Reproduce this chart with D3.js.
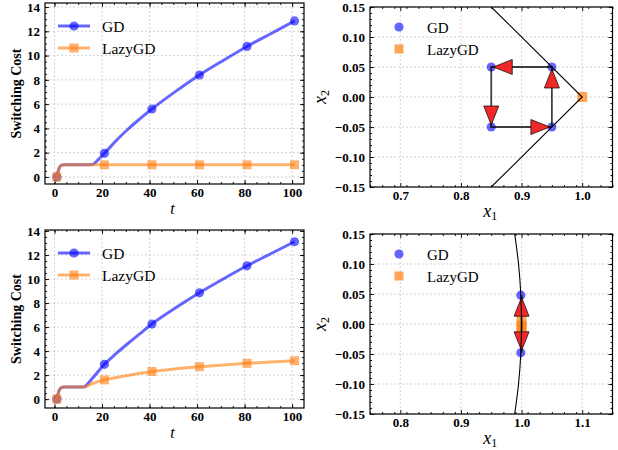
<!DOCTYPE html>
<html>
<head>
<meta charset="utf-8">
<script src="https://cdn.jsdelivr.net/npm/d3@7"></script>
<style>
  body { margin: 0; background: #fff; }
  svg text { font-family: "Liberation Serif", "Times New Roman", serif; }
</style>
</head>
<body>
<svg id="chart" width="618" height="450"></svg>
<script>
// ---- switching cost panels (left) ----
const tTop = [1, 2, 3, 4, 8, 12, 16, 18, 21, 26, 31, 36, 41, 51, 61, 71, 81, 91, 101];
const gdCostTop = [0, 0.75, 0.97, 1, 1, 1, 1.02, 1.35, 1.95, 3.0, 3.95, 4.8, 5.6, 7.05, 8.4, 9.6, 10.75, 11.8, 12.85];
const lazyCostTop = [0, 0.75, 0.97, 1, 1, 1, 1, 1, 1, 1, 1, 1, 1, 1, 1, 1, 1, 1, 1];

const tBottom = [1, 2, 3, 4, 8, 12, 16, 21, 26, 31, 36, 41, 51, 61, 71, 81, 91, 101];
const gdCostBottom = [0, 0.75, 0.97, 1, 1, 1, 1.75, 2.9, 3.8, 4.65, 5.45, 6.25, 7.6, 8.85, 10.0, 11.1, 12.1, 13.1];
const lazyCostBottom = [0, 0.75, 0.97, 1, 1, 1, 1.3, 1.6, 1.8, 1.97, 2.15, 2.3, 2.52, 2.7, 2.85, 2.98, 3.1, 3.2];

const markerT = [1, 21, 41, 61, 81, 101];
const costTicksX = [0, 20, 40, 60, 80, 100];
const costTicksY = [0, 2, 4, 6, 8, 10, 12, 14];

// ---- trajectory panels (right) ----
const gdTopX1 = [0.85, 0.95, 0.85, 0.95];
const gdTopX2 = [0.05, 0.05, -0.05, -0.05];
const lazyTopX1 = [1.0];
const lazyTopX2 = [0.0];
const pathTopX1 = [0.95, 0.95, 0.85, 0.85, 0.95];
const pathTopX2 = [-0.05, 0.05, 0.05, -0.05, -0.05];
const boundTopX1 = [0.85, 1.0, 0.85];
const boundTopX2 = [0.15, 0.0, -0.15];

const gdBotX1 = [0.9988, 0.9988];
const gdBotX2 = [0.048, -0.048];
const lazyBotX1 = [1.0, 1.0, 1.0];
const lazyBotX2 = [0.005, -0.003, -0.011];
const pathBotX1 = [1.0, 1.0, 1.0];
const pathBotX2 = [-0.048, 0.048, -0.048];
const boundBotX1 = [0.9887, 0.995, 0.9987, 1.0, 0.9987, 0.995, 0.9887];
const boundBotX2 = [0.15, 0.10, 0.05, 0.0, -0.05, -0.10, -0.15];

const trajTicksY = [-0.15, -0.10, -0.05, 0.0, 0.05, 0.10, 0.15];
const trajTicksXTop = [0.7, 0.8, 0.9, 1.0];
const trajTicksXBot = [0.8, 0.9, 1.0, 1.1];

const BLUE = "#0000ff", ORANGE = "#ff7f0e";
const svg = d3.select("#chart");

function panelFrame(box, x, y, xt, yt, xMinor, yMinor, fmtX, fmtY) {
  var g = svg.append("g");
  var w = box.x1 - box.x0, h = box.y1 - box.y0;

  // grid
  var grid = g.append("g").attr("stroke", "#c8c8c8").attr("stroke-width", 0.8)
    .attr("stroke-dasharray", "2,2");
  xt.forEach(function (v) {
    grid.append("line").attr("x1", x(v)).attr("x2", x(v)).attr("y1", box.y0).attr("y2", box.y1);
  });
  yt.forEach(function (v) {
    grid.append("line").attr("y1", y(v)).attr("y2", y(v)).attr("x1", box.x0).attr("x2", box.x1);
  });

  var axes = g.append("g").attr("class", "axes");
  function add(axis, tx, ty) {
    var a = axes.append("g").attr("transform", "translate(" + tx + "," + ty + ")").call(axis);
    a.select(".domain").remove();
    a.selectAll("line").attr("stroke", "#000").attr("stroke-width", 0.9);
    return a;
  }
  add(d3.axisBottom(x).tickValues(xt).tickSizeInner(-4).tickSizeOuter(0)
    .tickPadding(4).tickFormat(fmtX), 0, box.y1);
  add(d3.axisLeft(y).tickValues(yt).tickSizeInner(-4).tickSizeOuter(0)
    .tickPadding(5).tickFormat(fmtY), box.x0, 0);
  add(d3.axisTop(x).tickValues(xt).tickSizeInner(-4).tickSizeOuter(0).tickFormat(""), 0, box.y0);
  add(d3.axisRight(y).tickValues(yt).tickSizeInner(-4).tickSizeOuter(0).tickFormat(""), box.x1, 0);
  add(d3.axisBottom(x).tickValues(xMinor).tickSizeInner(-2).tickSizeOuter(0).tickFormat(""), 0, box.y1);
  add(d3.axisTop(x).tickValues(xMinor).tickSizeInner(-2).tickSizeOuter(0).tickFormat(""), 0, box.y0);
  add(d3.axisLeft(y).tickValues(yMinor).tickSizeInner(-2).tickSizeOuter(0).tickFormat(""), box.x0, 0);
  add(d3.axisRight(y).tickValues(yMinor).tickSizeInner(-2).tickSizeOuter(0).tickFormat(""), box.x1, 0);

  axes.selectAll("text").attr("font-family", "Liberation Serif, serif")
    .attr("font-size", 13).attr("font-weight", "bold").attr("fill", "#000");

  g.append("rect").attr("x", box.x0).attr("y", box.y0).attr("width", w).attr("height", h)
    .attr("fill", "none").attr("stroke", "#000").attr("stroke-width", 1.2);
  return g;
}

function minorBetween(lo, hi, step) {
  var out = [];
  for (var v = lo; v <= hi + 1e-9; v += step) out.push(+v.toFixed(4));
  return out;
}

// ---------- cost panel ----------
function costPanel(box, ts, gd, lazy, yDomain, id) {
  var x = d3.scaleLinear().domain([-4, 105]).range([box.x0, box.x1]);
  var y = d3.scaleLinear().domain(yDomain).range([box.y1, box.y0]);
  panelFrame(box, x, y, costTicksX, costTicksY, minorBetween(0, 100, 5),
    minorBetween(0, 14, 0.5), d3.format("d"), d3.format("d"));

  svg.append("clipPath").attr("id", id).append("rect")
    .attr("x", box.x0).attr("y", box.y0).attr("width", box.x1 - box.x0).attr("height", box.y1 - box.y0);
  var plot = svg.append("g").attr("clip-path", "url(#" + id + ")");

  var line = d3.line().x(function (d) { return x(d[0]); }).y(function (d) { return y(d[1]); })
    .curve(d3.curveMonotoneX);

  [[gd, BLUE, "circle"], [lazy, ORANGE, "square"]].forEach(function (s) {
    var pts = ts.map(function (t, i) { return [t, s[0][i]]; });
    plot.append("path").datum(pts).attr("d", line).attr("fill", "none")
      .attr("stroke", s[1]).attr("stroke-width", 3).attr("stroke-opacity", 0.6);
    var mk = pts.filter(function (p) { return markerT.indexOf(p[0]) >= 0; });
    if (s[2] === "circle") {
      plot.selectAll(null).data(mk).enter().append("circle")
        .attr("cx", function (d) { return x(d[0]); }).attr("cy", function (d) { return y(d[1]); })
        .attr("r", 4.6).attr("fill", s[1]).attr("fill-opacity", 0.6);
    } else {
      plot.selectAll(null).data(mk).enter().append("rect")
        .attr("x", function (d) { return x(d[0]) - 4.5; }).attr("y", function (d) { return y(d[1]) - 4.5; })
        .attr("width", 9).attr("height", 9).attr("fill", s[1]).attr("fill-opacity", 0.6);
    }
  });

  // legend
  var lg = svg.append("g");
  [["GD", BLUE, "circle", 0], ["LazyGD", ORANGE, "square", 22]].forEach(function (s) {
    var yy = box.y0 + 23 + s[3];
    lg.append("line").attr("x1", box.x0 + 13).attr("x2", box.x0 + 45).attr("y1", yy).attr("y2", yy)
      .attr("stroke", s[1]).attr("stroke-width", 3).attr("stroke-opacity", 0.6);
    if (s[2] === "circle") {
      lg.append("circle").attr("cx", box.x0 + 29).attr("cy", yy).attr("r", 4.6)
        .attr("fill", s[1]).attr("fill-opacity", 0.6);
    } else {
      lg.append("rect").attr("x", box.x0 + 24.5).attr("y", yy - 4.5).attr("width", 9).attr("height", 9)
        .attr("fill", s[1]).attr("fill-opacity", 0.6);
    }
    lg.append("text").attr("x", box.x0 + 57).attr("y", yy + 5.5).attr("font-size", 15.5)
      .text(s[0]);
  });

  // axis labels
  svg.append("text").attr("transform", "translate(21," + ((box.y0 + box.y1) / 2) + ") rotate(-90)")
    .attr("text-anchor", "middle").attr("font-size", 14).attr("font-weight", "bold")
    .text("Switching Cost");
  svg.append("text").attr("x", (box.x0 + box.x1) / 2 - 2).attr("y", box.y1 + 30)
    .attr("text-anchor", "middle").attr("font-size", 16).attr("font-style", "italic").text("t");
}

// ---------- trajectory panel ----------
function arrowHead(g, p0, p1) {
  var dx = p1[0] - p0[0], dy = p1[1] - p0[1];
  var L = Math.sqrt(dx * dx + dy * dy);
  var ux = dx / L, uy = dy / L, nx = -uy, ny = ux;
  var tip = [p1[0] - ux * 2, p1[1] - uy * 2];
  var base = [tip[0] - ux * 19, tip[1] - uy * 19];
  var pts = [tip, [base[0] + nx * 7.5, base[1] + ny * 7.5], [base[0] - nx * 7.5, base[1] - ny * 7.5]];
  g.append("path").attr("d", "M" + pts.join("L") + "Z")
    .attr("fill", "#f02828").attr("stroke", "#000").attr("stroke-opacity", 0.7).attr("stroke-width", 1);
}

function trajPanel(box, xDomain, xt, d, id) {
  var x = d3.scaleLinear().domain(xDomain).range([box.x0, box.x1]);
  var y = d3.scaleLinear().domain([-0.15, 0.15]).range([box.y1, box.y0]);
  panelFrame(box, x, y, xt, trajTicksY, minorBetween(xDomain[0], xDomain[1], 0.02),
    minorBetween(-0.15, 0.15, 0.01), d3.format(".1f"), d3.format(".2f"));

  svg.append("clipPath").attr("id", id).append("rect")
    .attr("x", box.x0).attr("y", box.y0).attr("width", box.x1 - box.x0).attr("height", box.y1 - box.y0);
  var plot = svg.append("g").attr("clip-path", "url(#" + id + ")");

  plot.selectAll(null).data(d.gdX1).enter().append("circle")
    .attr("cx", function (v) { return x(v); })
    .attr("cy", function (v, i) { return y(d.gdX2[i]); })
    .attr("r", 4.6).attr("fill", BLUE).attr("fill-opacity", 0.6);
  plot.selectAll(null).data(d.lazyX1).enter().append("rect")
    .attr("x", function (v) { return x(v) - 5; })
    .attr("y", function (v, i) { return y(d.lazyX2[i]) - 5; })
    .attr("width", 10).attr("height", 10).attr("fill", ORANGE).attr("fill-opacity", 0.7);

  var pix = d.pathX1.map(function (v, i) { return [x(v), y(d.pathX2[i])]; });
  plot.append("path").attr("d", d3.line()(pix)).attr("fill", "none")
    .attr("stroke", "#000").attr("stroke-opacity", 0.75).attr("stroke-width", 1.8);
  for (var i = 1; i < pix.length; i++) arrowHead(plot, pix[i - 1], pix[i]);

  var bnd = d.boundX1.map(function (v, i) { return [x(v), y(d.boundX2[i])]; });
  plot.append("path").attr("d", d3.line().curve(d.boundCurve)(bnd)).attr("fill", "none")
    .attr("stroke", "#000").attr("stroke-width", 1.1);

  // legend
  var lg = svg.append("g");
  lg.append("circle").attr("cx", box.x0 + 29).attr("cy", box.y0 + 20).attr("r", 4.6)
    .attr("fill", BLUE).attr("fill-opacity", 0.6);
  lg.append("rect").attr("x", box.x0 + 24.5).attr("y", box.y0 + 42 - 4.5).attr("width", 9).attr("height", 9)
    .attr("fill", ORANGE).attr("fill-opacity", 0.7);
  lg.append("text").attr("x", box.x0 + 57).attr("y", box.y0 + 25.5).attr("font-size", 15).text("GD");
  lg.append("text").attr("x", box.x0 + 57).attr("y", box.y0 + 47.5).attr("font-size", 15).text("LazyGD");

  // axis labels
  var xl = svg.append("text").attr("x", (box.x0 + box.x1) / 2 - 1).attr("y", box.y1 + 30)
    .attr("text-anchor", "middle").attr("font-size", 18);
  xl.append("tspan").attr("font-style", "italic").text("x");
  xl.append("tspan").attr("font-size", 12).attr("dy", 3).text("1");
  var yl = svg.append("text").attr("transform", "translate(326," + ((box.y0 + box.y1) / 2) + ") rotate(-90)")
    .attr("text-anchor", "middle").attr("font-size", 18);
  yl.append("tspan").attr("font-style", "italic").text("x");
  yl.append("tspan").attr("font-size", 12).attr("dy", 3).text("2");
}

costPanel({ x0: 45, x1: 304, y0: 3, y1: 184 }, tTop, gdCostTop, lazyCostTop, [-0.58, 14.33], "clipTL");
costPanel({ x0: 45, x1: 304, y0: 230, y1: 408 }, tBottom, gdCostBottom, lazyCostBottom, [-0.74, 14.08], "clipBL");

trajPanel({ x0: 370, x1: 612.5, y0: 7, y1: 187 }, [0.65, 1.05], trajTicksXTop, {
  gdX1: gdTopX1, gdX2: gdTopX2, lazyX1: lazyTopX1, lazyX2: lazyTopX2,
  pathX1: pathTopX1, pathX2: pathTopX2, boundX1: boundTopX1, boundX2: boundTopX2,
  boundCurve: d3.curveLinear
}, "clipTR");
trajPanel({ x0: 370, x1: 612.5, y0: 234, y1: 414 }, [0.75, 1.15], trajTicksXBot, {
  gdX1: gdBotX1, gdX2: gdBotX2, lazyX1: lazyBotX1, lazyX2: lazyBotX2,
  pathX1: pathBotX1, pathX2: pathBotX2, boundX1: boundBotX1, boundX2: boundBotX2,
  boundCurve: d3.curveCatmullRom
}, "clipBR");
</script>
</body>
</html>
